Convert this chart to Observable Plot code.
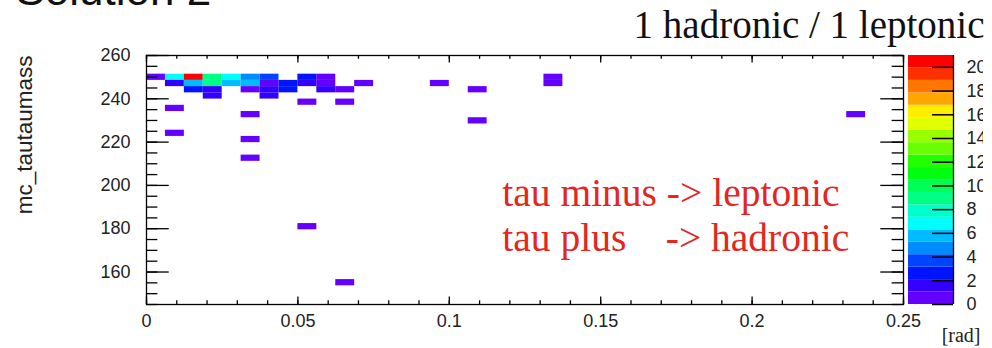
<!DOCTYPE html>
<html><head><meta charset="utf-8">
<script src="https://cdn.jsdelivr.net/npm/d3@7"></script>
<script src="https://cdn.jsdelivr.net/npm/@observablehq/plot@0.6"></script>
<style>
html,body{margin:0;padding:0;background:#fff;}
#wrap{position:relative;width:992px;height:348px;overflow:hidden;background:#fff;}
#main{position:absolute;left:0;top:0;}
#zbar{position:absolute;left:900px;top:0;width:83px;height:348px;overflow:hidden;}
</style></head><body>
<div id="wrap"><div id="main"></div><div id="zbar"></div></div>
<script>
// ---- histogram binning ----
const xRange = [0, 0.25];
const yRange = [145, 260];
const binWidthX = 0.00625;
const binWidthY = 2.875;

// bin lower edges (x in rad, y in mc_tautaumass) and counts
const binX = [
  0, 0.00625, 0.0125, 0.01875, 0.025, 0.03125, 0.0375, 0.05, 0.05625, 0.13125,
  0.00625, 0.0125, 0.01875, 0.025, 0.03125, 0.0375, 0.04375, 0.05, 0.05625, 0.06875, 0.09375, 0.13125,
  0.0125, 0.01875, 0.03125, 0.0375, 0.04375, 0.05625, 0.0625, 0.10625,
  0.01875, 0.0375,
  0.05, 0.0625,
  0.00625,
  0.03125, 0.23125,
  0.10625,
  0.00625,
  0.03125,
  0.03125,
  0.05,
  0.0625
];
const binY = [
  248.5, 248.5, 248.5, 248.5, 248.5, 248.5, 248.5, 248.5, 248.5, 248.5,
  245.625, 245.625, 245.625, 245.625, 245.625, 245.625, 245.625, 245.625, 245.625, 245.625, 245.625, 245.625,
  242.75, 242.75, 242.75, 242.75, 242.75, 242.75, 242.75, 242.75,
  239.875, 239.875,
  237, 237,
  234.125,
  231.25, 231.25,
  228.375,
  222.625,
  219.75,
  211.125,
  179.5,
  153.625
];
const binCount = [
  1, 7, 20, 9, 7, 5, 4, 3, 1, 1,
  2, 6, 9, 6, 6, 1, 3, 2, 1, 1, 1, 1,
  3, 2, 1, 2, 3, 2, 1, 1,
  2, 2,
  1, 1,
  1,
  1, 1,
  1,
  1,
  1,
  1,
  1,
  1
];

// axes
const xTicks = [0, 0.05, 0.1, 0.15, 0.2, 0.25];
const xTickLabels = ["0", "0.05", "0.1", "0.15", "0.2", "0.25"];
const xMinorTicks = d3.range(0, 0.2501, 0.01);
const yTicks = [160, 180, 200, 220, 240, 260];
const yTickLabels = ["160", "180", "200", "220", "240", "260"];
const yMinorTicks = d3.range(145, 260.01, 5);

// z (colour) axis
const zMax = 21;
const zLevels = 20;
const zTicks = [0, 2, 4, 6, 8, 10, 12, 14, 16, 18, 20];
const zTickLabels = ["0", "2", "4", "6", "8", "10", "12", "14", "16", "18", "20"];
const palette = [
  "#6300ff", "#3300ff", "#0014ff", "#0044ff", "#008bff",
  "#00bbff", "#00fffc", "#00ffcc", "#00ff85", "#00ff55",
  "#00ff0e", "#22ff00", "#69ff00", "#99ff00", "#e0ff00",
  "#ffee00", "#ffa700", "#ff7700", "#ff3000", "#ff0000"
];

// texts
const titleText = "1 hadronic / 1 leptonic";
const slideTitle = "Solution 2";
const yLabel = "mc_tautaumass";
const xUnit = "[rad]";
const notes = [
  {text: "tau minus -> leptonic", x: 0.1175, y: 190.7},
  {text: "tau plus\u00a0\u00a0\u00a0\u00a0-> hadronic", x: 0.1175, y: 169.9}
];

const SANS = "'Liberation Sans', Arial, Helvetica, sans-serif";
const SERIF = "'Liberation Serif', 'Times New Roman', Times, serif";
const zStep = zMax / zLevels;
const zBreaks = d3.range(1, zLevels).map(k => k * zStep);
const colorScale = {type: "threshold", domain: zBreaks, range: palette};

const bins = binCount.map((c, k) => ({x: binX[k], y: binY[k], count: c}));

const W = 992, H = 348, mL = 146, mR = 89, mT = 55, mB = 44;
const fw = W - mL - mR, fh = H - mT - mB;
const tx = 0.03 * fh, ty = 0.03 * fw; // ROOT-like tick lengths
const tickStyle = {stroke: "#000", strokeWidth: 1.3};

const main = Plot.plot({
  width: W, height: H,
  marginLeft: mL, marginRight: mR, marginTop: mT, marginBottom: mB,
  style: {background: "transparent", fontFamily: SANS, overflow: "visible"},
  x: {domain: xRange, label: null},
  y: {domain: yRange, label: null},
  color: colorScale,
  marks: [
    Plot.rect(bins, {x1: d => d.x, x2: d => d.x + binWidthX, y1: d => d.y, y2: d => d.y + binWidthY, fill: d => d.count}),
    // bottom & top ticks (inside)
    Plot.tickX(xMinorTicks, {x: d => d, insetTop: fh - tx / 2, ...tickStyle}),
    Plot.tickX(xTicks, {x: d => d, insetTop: fh - tx, ...tickStyle}),
    Plot.tickX(xMinorTicks, {x: d => d, insetBottom: fh - tx / 2, ...tickStyle}),
    Plot.tickX(xTicks, {x: d => d, insetBottom: fh - tx, ...tickStyle}),
    // left & right ticks (inside)
    Plot.tickY(yMinorTicks, {y: d => d, insetRight: fw - ty / 2, ...tickStyle}),
    Plot.tickY(yTicks, {y: d => d, insetRight: fw - ty, ...tickStyle}),
    Plot.tickY(yMinorTicks, {y: d => d, insetLeft: fw - ty / 2, ...tickStyle}),
    Plot.tickY(yTicks, {y: d => d, insetLeft: fw - ty, ...tickStyle}),
    Plot.frame({stroke: "#000", strokeWidth: 1.3}),
    Plot.axisX(xTicks, {tickSize: 0, tickPadding: 10, label: null, fontSize: 18, fill: "#222",
      tickFormat: d => xTickLabels[xTicks.indexOf(d)]}),
    Plot.axisY(yTicks, {tickSize: 0, tickPadding: 16, label: null, fontSize: 18, fill: "#222",
      tickFormat: d => yTickLabels[yTicks.indexOf(d)]}),
    // annotations
    Plot.text(notes, {x: "x", y: "y", text: "text", fill: "#e3261f", fontSize: 39.5, fontFamily: SERIF,
      textAnchor: "start", lineAnchor: "bottom"}),
    Plot.text([titleText], {text: d => d, frameAnchor: "top-right", textAnchor: "end", lineAnchor: "bottom",
      dx: 81, dy: -18, fontSize: 39, fontFamily: SERIF, fill: "#111"}),
    Plot.text([slideTitle], {text: d => d, frameAnchor: "top-left", textAnchor: "start", lineAnchor: "bottom",
      dx: -131, dy: -51, fontSize: 44, fontFamily: SANS, fill: "#111"}),
    Plot.text([xUnit], {text: d => d, frameAnchor: "bottom-right", textAnchor: "end", lineAnchor: "bottom",
      dx: 77, dy: 37, fontSize: 20, fontFamily: SERIF, fill: "#222"}),
    Plot.text([yLabel], {text: d => d, frameAnchor: "top-left", rotate: -90, textAnchor: "end", lineAnchor: "bottom",
      dx: -115, dy: 0, fontSize: 22.5, fontFamily: SANS, fill: "#222"})
  ]
});
document.getElementById("main").appendChild(main);

// colour bar
const bands = d3.range(zLevels);
const zbar = Plot.plot({
  width: 83, height: H,
  marginLeft: 8, marginRight: 30, marginTop: mT, marginBottom: mB,
  style: {background: "transparent", fontFamily: SANS, overflow: "visible"},
  x: {domain: [0, 1], axis: null},
  y: {domain: [0, zMax], label: null},
  color: colorScale,
  marks: [
    Plot.rect(bands, {y1: d => d * zStep, y2: d => (d + 1) * zStep, fill: d => (d + 0.5) * zStep}),
    Plot.tickY(zTicks, {y: d => d, insetLeft: 24, stroke: "#000", strokeWidth: 1.5}),
    Plot.ruleX([1], {stroke: "#000", strokeWidth: 1.3}),
    Plot.axisY(zTicks, {anchor: "right", tickSize: 0, tickPadding: 13, label: null, fontSize: 18, fill: "#222",
      tickFormat: d => zTickLabels[zTicks.indexOf(d)]})
  ]
});
document.getElementById("zbar").appendChild(zbar);
</script>
</body></html>
